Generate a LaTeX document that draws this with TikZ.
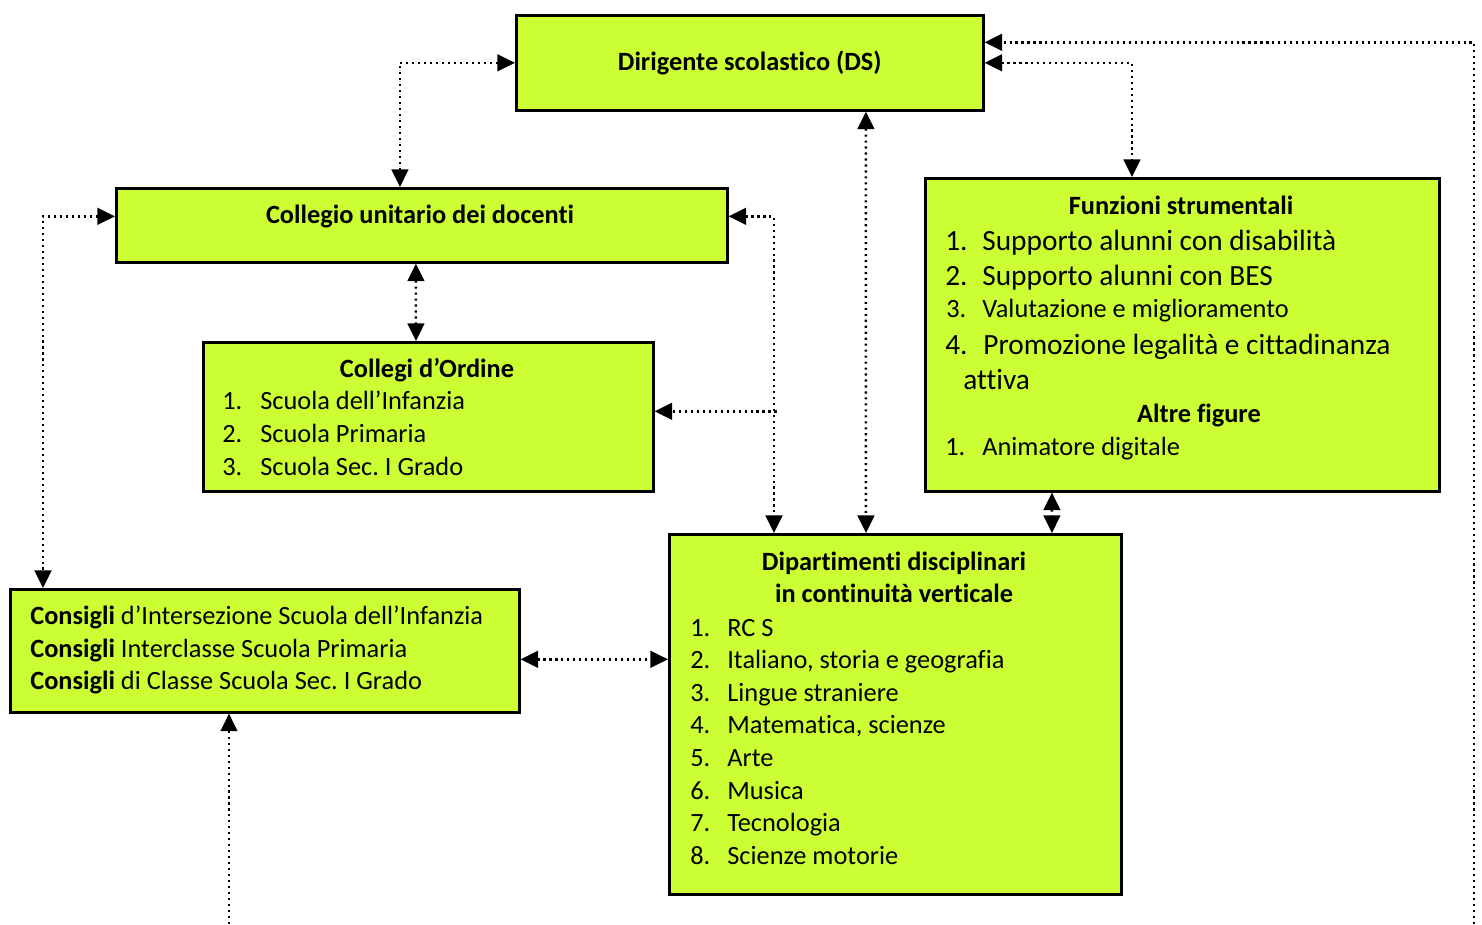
\documentclass[tikz,border=0pt]{standalone}
\usepackage{fontspec}
\setmainfont{Carlito}[Ligatures=NoCommon]
\usepackage{xcolor}
\usepackage{tikz}
\usetikzlibrary{arrows.meta,positioning,calc}
\definecolor{BoxLime}{RGB}{204,255,51}
\newcommand{\basesize}{\fontsize{15}{18}\selectfont}
\newcommand{\bigsize}{\fontsize{16.7}{20}\selectfont}
\tikzset{
  orgbox/.style={rectangle,draw=black,line width=1.5pt,fill=BoxLime,
                 anchor=north west,inner sep=0pt,font=\basesize\bfseries},
  ttl/.style={anchor=base,inner sep=0pt,font=\basesize\bfseries},
  item/.style={anchor=base west,inner sep=0pt,font=\basesize},
  bigitem/.style={item,font=\bigsize},
  link/.style={line width=1.4pt,dash pattern=on 1.2pt off 2.2pt,
               arrows={Triangle[length=10pt,width=9.5pt]-Triangle[length=10pt,width=9.5pt]}},
  linkto/.style={line width=1.4pt,dash pattern=on 1.2pt off 2.2pt,
               arrows={-Triangle[length=10pt,width=9.5pt]}},
}

\begin{document}
\frenchspacing
\begin{tikzpicture}[x=0.02cm,y=-0.02cm]
  \useasboundingbox (0,0) rectangle (1482,924);

  % boxes
  \node[orgbox,minimum width=9.34cm,minimum height=1.90cm] (ds) at (515,14) {Dirigente scolastico (DS)};
  \node[orgbox,minimum width=12.22cm,minimum height=1.48cm] (cud) at (115,187) {};
  \node[orgbox,minimum width=9.00cm,minimum height=2.98cm] (cdo) at (202,341) {};
  \node[orgbox,minimum width=10.28cm,minimum height=6.26cm] (fs) at (924,177) {};
  \node[orgbox,minimum width=9.04cm,minimum height=7.20cm] (dip) at (668,533) {};
  \node[orgbox,minimum width=10.18cm,minimum height=2.46cm] (cons) at (9,588) {};

  % Collegio unitario
  \node[ttl] (cudT) at (420,223) {Collegio unitario dei docenti};

  % Collegi d'Ordine
  \node[ttl] (cdoT) at (427,377) {Collegi d’Ordine};
  \foreach \t [count=\i] in {Scuola dell’Infanzia, Scuola Primaria, Scuola Sec. I Grado}{
    \node[item] (cdon\i) at (222,{377+32.7*\i}) {\i.};
    \node[item] (cdo\i) at (260,{377+32.7*\i}) {\t};
  }

  % Funzioni strumentali
  \node[ttl] (fsT) at (1181,214) {Funzioni strumentali};
  \node[bigitem] (fsn1) at (945,250) {1.};
  \node[bigitem] (fs1) at (982,250) {Supporto alunni con disabilità};
  \node[bigitem] (fsn2) at (945,285) {2.};
  \node[bigitem] (fs2) at (982,285) {Supporto alunni con BES};
  \node[item] (fsn3) at (946,317) {3.};
  \node[item] (fs3) at (982,317) {Valutazione e miglioramento};
  \node[bigitem] (fsn4) at (945,354) {4.};
  \node[bigitem] (fs4) at (983,354) {Promozione legalità e cittadinanza};
  \node[bigitem] (fs4b) at (963,389) {attiva};
  \node[ttl] (afT) at (1199,422) {Altre figure};
  \node[item] (afn1) at (945,455) {1.};
  \node[item] (af1) at (982,455) {Animatore digitale};

  % Dipartimenti
  \node[ttl] (dipT) at (894,570) {Dipartimenti disciplinari};
  \node[ttl] (dipT2) at (894,602) {in continuità verticale};
  \foreach \t [count=\i] in {RC S, {Italiano, storia e geografia}, Lingue straniere,
      {Matematica, scienze}, Arte, Musica, Tecnologia, Scienze motorie}{
    \node[item] (dipn\i) at (690,{603.5+32.6*\i}) {\i.};
    \node[item] (dip\i) at (727,{603.5+32.6*\i}) {\t};
  }

  % Consigli
  \node[item] (cons1) at (30,624) {\textbf{Consigli} d’Intersezione Scuola dell’Infanzia};
  \node[item] (cons2) at (30,657) {\textbf{Consigli} Interclasse Scuola Primaria};
  \node[item] (cons3) at (30,689) {\textbf{Consigli} di Classe Scuola Sec. I Grado};

  % connectors
  \coordinate (bottomR) at (1474,924);
  \coordinate (bottomL) at (229,924);
  \coordinate (consR) at ([yshift=-0.17cm]cons.east);
  \draw[link] (ds.west) -| ([xshift=5.7cm]cud.north west);
  \draw[link] (ds.east) -| ([xshift=4.16cm]fs.north west);
  \draw[linkto] (bottomR) |- ([yshift=0.41cm]ds.east);
  \draw[link] ([xshift=7.02cm]ds.south west) -- ([xshift=3.96cm]dip.north west);
  \draw[link] ([yshift=0.18cm]cud.east) -| ([xshift=2.12cm]dip.north west);
  \draw[linkto] ([xshift=2.44cm,yshift=0.11cm]cdo.east) -- ([yshift=0.11cm]cdo.east);
  \draw[link] ([xshift=6.02cm]cud.south west) -- ([xshift=4.28cm]cdo.north west);
  \draw[link] ([yshift=0.18cm]cud.west) -| ([xshift=0.68cm]cons.north west);
  \draw[link] ([xshift=2.56cm]fs.south west) -- ([xshift=7.68cm]dip.north west);
  \draw[link] (consR) -- (consR -| dip.west);
  \draw[linkto] (bottomL) -- (bottomL |- cons.south);
\end{tikzpicture}
\end{document}
